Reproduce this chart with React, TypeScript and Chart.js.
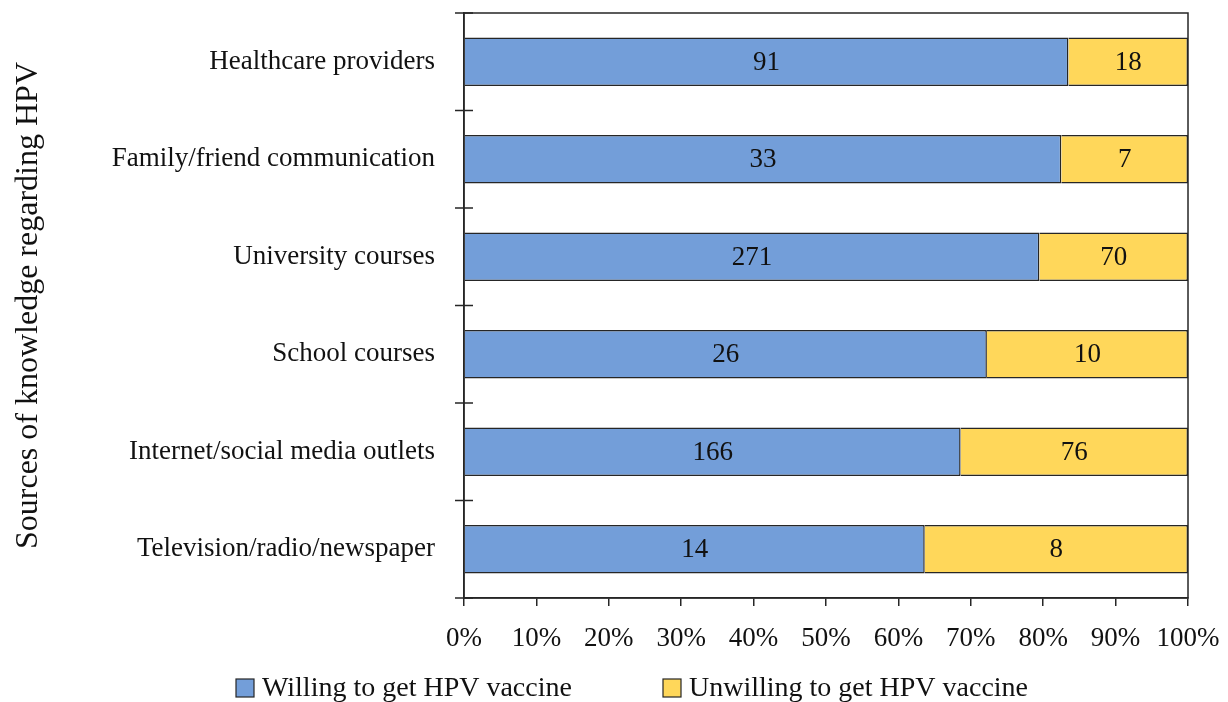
import React, { useEffect, useRef } from "react";
import { Chart, registerables } from "chart.js";

Chart.register(...registerables);

const categories = [
  "Healthcare providers",
  "Family/friend communication",
  "University courses",
  "School courses",
  "Internet/social media outlets",
  "Television/radio/newspaper",
];
const willing = [91, 33, 271, 26, 166, 14];
const unwilling = [18, 7, 70, 10, 76, 8];
const seriesNames = ["Willing to get HPV vaccine", "Unwilling to get HPV vaccine"];
const seriesColors = ["#739ed9", "#ffd75a"];
const yAxisTitle = "Sources of knowledge regarding HPV";

const FONT = "'Liberation Serif', 'Times New Roman', serif";
const INK = "#111111";
const LINE = "#262626";

const rawCounts = [willing, unwilling];

export default function App() {
  const ref = useRef<HTMLCanvasElement | null>(null);

  useEffect(() => {
    if (!ref.current) return;
    const prevMargin = document.body.style.margin;
    document.body.style.margin = "0";
    const totals = categories.map((_, i) => willing[i] + unwilling[i]);
    const pct = (arr: number[]) => arr.map((v, i) => (v / totals[i]) * 100);

    const framePlugin = {
      id: "frame",
      afterDraw(chart: any) {
        const { ctx, chartArea: a } = chart;
        const y = chart.scales.y;
        ctx.save();
        ctx.strokeStyle = LINE;
        ctx.lineWidth = 1.5;
        ctx.strokeRect(a.left, a.top, a.right - a.left, a.bottom - a.top);
        const n = categories.length;
        const step = (y.bottom - y.top) / n;
        ctx.beginPath();
        for (let i = 0; i <= n; i++) {
          const yy = y.top + i * step;
          ctx.moveTo(a.left - 9, yy);
          ctx.lineTo(a.left + 9, yy);
        }
        ctx.stroke();
        ctx.restore();
      },
    };

    const labelPlugin = {
      id: "barLabels",
      afterDatasetsDraw(chart: any) {
        const { ctx } = chart;
        ctx.save();
        ctx.font = `27px ${FONT}`;
        ctx.fillStyle = INK;
        ctx.textAlign = "center";
        ctx.textBaseline = "middle";
        chart.data.datasets.forEach((_: any, di: number) => {
          const meta = chart.getDatasetMeta(di);
          meta.data.forEach((el: any, i: number) => {
            const cx = (el.x + el.base) / 2;
            ctx.fillText(String(rawCounts[di][i]), cx, el.y + 1);
          });
        });
        ctx.restore();
      },
    };

    const legendPlugin = {
      id: "customLegend",
      afterDraw(chart: any) {
        const { ctx } = chart;
        const boxXs = [236, 663];
        const boxTop = 679;
        const baseline = 696;
        ctx.save();
        ctx.font = `28px ${FONT}`;
        ctx.textBaseline = "alphabetic";
        ctx.textAlign = "left";
        seriesNames.forEach((name, i) => {
          const bx = boxXs[i];
          ctx.fillStyle = seriesColors[i];
          ctx.fillRect(bx, boxTop, 18, 18);
          ctx.strokeStyle = LINE;
          ctx.lineWidth = 1.2;
          ctx.strokeRect(bx, boxTop, 18, 18);
          ctx.fillStyle = INK;
          ctx.fillText(name, bx + 26, baseline);
        });
        ctx.restore();
      },
    };

    const chart = new Chart(ref.current, {
      type: "bar",
      data: {
        labels: categories,
        datasets: [
          {
            label: seriesNames[0],
            data: pct(willing),
            backgroundColor: seriesColors[0],
            borderColor: LINE,
            borderWidth: 1.5,
            barPercentage: 0.495,
            categoryPercentage: 1,
          },
          {
            label: seriesNames[1],
            data: pct(unwilling),
            backgroundColor: seriesColors[1],
            borderColor: LINE,
            borderWidth: 1.5,
            barPercentage: 0.495,
            categoryPercentage: 1,
          },
        ],
      },
      options: {
        indexAxis: "y",
        responsive: false,
        animation: false,
        layout: { padding: { top: 13, right: 40, bottom: 48, left: 8 } },
        plugins: {
          legend: { display: false },
          tooltip: { enabled: false },
        },
        scales: {
          x: {
            stacked: true,
            min: 0,
            max: 100,
            ticks: {
              stepSize: 10,
              padding: 17,
              color: INK,
              font: { family: FONT, size: 27 },
              callback: (v: any) => `${v}%`,
              maxRotation: 0,
            },
            grid: {
              display: true,
              drawOnChartArea: false,
              drawTicks: true,
              tickLength: 8,
              color: LINE,
              lineWidth: 1.5,
            },
            border: { display: true, color: LINE, width: 1.5 },
            afterFit: (s: any) => {
              s.height = 56;
              s.paddingLeft = 0;
              s.paddingRight = 0;
            },
          },
          y: {
            stacked: true,
            ticks: {
              padding: 29,
              color: INK,
              font: { family: FONT, size: 27 },
            },
            grid: { display: false, drawTicks: false },
            border: { display: true, color: LINE, width: 1.5 },
            title: {
              display: true,
              text: yAxisTitle,
              color: INK,
              font: { family: FONT, size: 32 },
              padding: { top: 1, bottom: 0 },
            },
            afterFit: (s: any) => {
              s.width = 456;
              s.paddingTop = 0;
              s.paddingBottom = 0;
            },
          },
        },
      },
      plugins: [labelPlugin, framePlugin, legendPlugin],
    });
    return () => {
      chart.destroy();
      document.body.style.margin = prevMargin;
    };
  }, []);

  return (
    <canvas ref={ref} width={1228} height={702} style={{ display: "block" }} />
  );
}
